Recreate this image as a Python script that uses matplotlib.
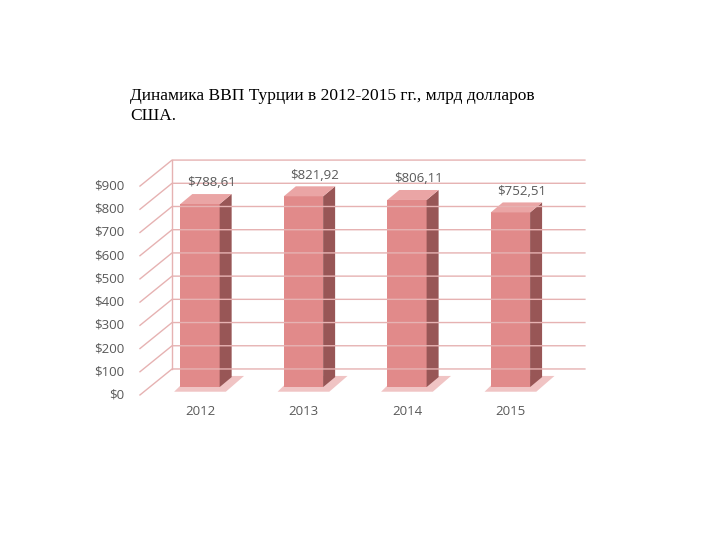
import matplotlib.pyplot as plt
from matplotlib.patches import Polygon

years = ["2012", "2013", "2014", "2015"]
gdp = [788.61, 821.92, 806.11, 752.51]
labels = ["$788,61", "$821,92", "$806,11", "$752,51"]
ticks = list(range(0, 1000, 100))

front_c = "#e18a8a"
side_c = "#985656"
top_c = "#eaa5a5"
grid_c = "#e6b2b2"
text_c = "#595959"

fig = plt.figure(figsize=(7.2, 5.4), dpi=100)
ax = fig.add_axes([0.1944, 0.2256, 0.618, 0.490])
ax.set_xlim(-0.58, 3.72)
ax.set_ylim(-100, 1040)
ax.axis("off")

x0 = -0.58
wdx, wdy = 0.31, 112  # back wall offset
# grid lines in perspective
for v in ticks:
    ax.plot([x0, x0 + wdx, 3.72], [v, v + wdy, v + wdy], color=grid_c, lw=1, clip_on=False)
    ax.text(x0 - 0.15, v, f"${v}", ha="right", va="center", fontsize=9.5,
            color=text_c, family="Open Sans")
ax.plot([x0 + wdx, x0 + wdx], [wdy, 900 + wdy], color=grid_c, lw=1)

w = 0.19
bdx, bdy = 0.116, 43
shift = 34  # bars stand mid-depth on the floor
for i, v in enumerate(gdp):
    l, r = i - w, i + w
    b, t = shift, v + shift
    # floor shadow
    ax.add_patch(Polygon([(l - 0.06, b - 20), (r + 0.06, b - 20), (r + bdx + 0.12, b + bdy + 5),
                          (l + bdx - 0.02, b + bdy + 5)], closed=True, color="#f0c4c4", lw=0))
    ax.add_patch(Polygon([(l, b), (r, b), (r, t), (l, t)], closed=True, color=front_c, lw=0))
    ax.add_patch(Polygon([(r, b), (r + bdx, b + bdy), (r + bdx, t + bdy), (r, t)],
                         closed=True, color=side_c, lw=0))
    ax.add_patch(Polygon([(l, t), (r, t), (r + bdx, t + bdy), (l + bdx, t + bdy)],
                         closed=True, color=top_c, lw=0))
    ax.text(i + 0.11, v + 125, labels[i], ha="center", va="center", fontsize=9.5,
            color=text_c, family="Open Sans")
    ax.text(i, -73, years[i], ha="center", va="center", fontsize=9.5,
            color=text_c, family="Open Sans")

fig.text(130 / 720, 1 - 88 / 540, "Динамика ВВП Турции в 2012-2015 гг., млрд долларов\nСША.",
         ha="left", va="top", fontsize=12.5, family="Liberation Serif", linespacing=1.3)

fig.savefig("out.png", dpi=100)
